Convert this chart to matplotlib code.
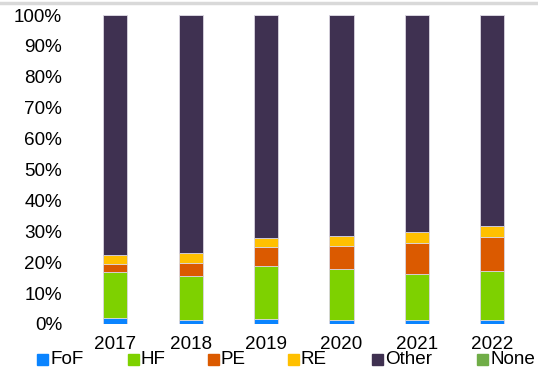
import matplotlib
matplotlib.use("Agg")
import matplotlib.pyplot as plt
from matplotlib.lines import Line2D
from matplotlib.patches import Rectangle
import numpy as np

years = ["2017", "2018", "2019", "2020", "2021", "2022"]
fof = [2.0, 1.4, 1.5, 1.2, 1.2, 1.2]
hf = [14.9, 14.1, 17.2, 16.7, 15.1, 15.8]
pe = [2.6, 4.3, 6.1, 7.5, 9.9, 11.1]
re = [2.9, 3.3, 3.1, 3.2, 3.5, 3.5]
none = [0, 0, 0, 0, 0, 0]
other = [100 - a - b - c - d - e for a, b, c, d, e in zip(fof, hf, pe, re, none)]

series = [
    ("FoF", fof, "#0a84ff"),
    ("HF", hf, "#7ed100"),
    ("PE", pe, "#db5a00"),
    ("RE", re, "#ffc000"),
    ("Other", other, "#3f3151"),
    ("None", none, "#70ad47"),
]

plt.rcParams["font.family"] = ["Liberation Sans", "DejaVu Sans"]
W, H = 538, 370
FS = 13.6

fig = plt.figure(figsize=(W / 100, H / 100), dpi=100)
ax = fig.add_axes([77.5 / W, 1 - 324 / H, (530 - 77.5) / W, (324 - 15) / H])

x = np.arange(len(years))
bottom = np.zeros(len(years))
for name, vals, col in series:
    v = np.array(vals, dtype=float)
    ax.bar(x, v / 100, bottom=bottom / 100, width=0.32, color=col,
           edgecolor="#d9d5e0", linewidth=0.6, label=name)
    bottom += v

ticks = np.arange(0, 1.01, 0.1)
ax.set_xlim(-0.5, len(years) - 0.5)
ax.set_ylim(0, 1)
ax.set_yticks(ticks)
ax.set_yticklabels([f"{int(round(t * 100))}%" for t in ticks], fontsize=FS)
ax.set_xticks(x)
ax.set_xticklabels(years, fontsize=FS)
ax.tick_params(length=0, pad=11, axis="y")
ax.tick_params(length=0, pad=8.5, axis="x")
for s in ax.spines.values():
    s.set_visible(False)

# legend entries laid out along the bottom edge
legend_x = [37, 128, 208, 288, 372, 477]
sq = 11
ly = 359
for (name, _, col), lx in zip(series, legend_x):
    fig.add_artist(Rectangle((lx / W, 1 - (ly + sq / 2) / H), sq / W, sq / H,
                             transform=fig.transFigure, color=col))
    fig.text((lx + sq + 2) / W, 1 - ly / H, name, fontsize=FS, va="center", ha="left")

fig.add_artist(Line2D([0, 1], [1 - 2.5 / H, 1 - 2.5 / H], color="#d9d9d9", linewidth=2.5))

fig.savefig("out.png", dpi=100)
